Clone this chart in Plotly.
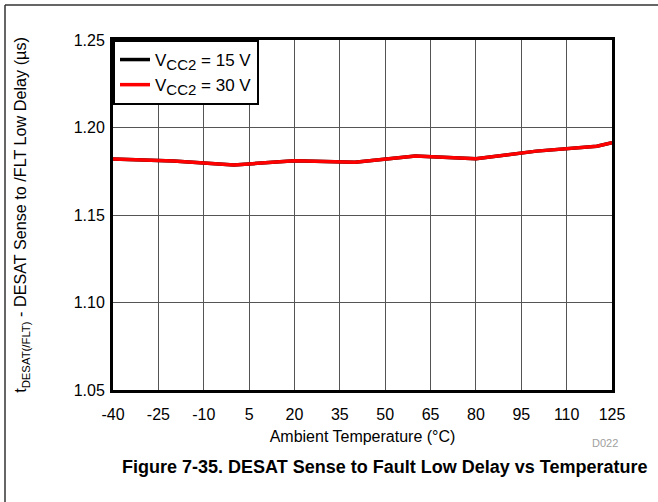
import plotly.graph_objects as go

temps = [-40, -20, 0, 20, 40, 60, 80, 100, 120, 125]
delay_15v = [1.1820, 1.1809, 1.1786, 1.1810, 1.1801, 1.1837, 1.1822, 1.1865, 1.1893, 1.1913]
delay_30v = [1.1820, 1.1809, 1.1786, 1.1810, 1.1801, 1.1837, 1.1822, 1.1865, 1.1893, 1.1913]
x_ticks = [-40, -25, -10, 5, 20, 35, 50, 65, 80, 95, 110, 125]
y_ticks = [1.05, 1.10, 1.15, 1.20, 1.25]

FONT = "Liberation Sans, Arial, sans-serif"
SUB = "<sub><span style='font-size:15px'>CC2</span></sub>"

fig = go.Figure()
fig.add_trace(go.Scatter(x=temps, y=delay_15v, mode="lines", name="V" + SUB + " = 15 V",
                         line=dict(color="black", width=3.5)))
fig.add_trace(go.Scatter(x=temps, y=delay_30v, mode="lines", name="V" + SUB + " = 30 V",
                         line=dict(color="#ff0000", width=3.5)))

L, R, T, B = 113, 46, 40, 112
W, H = 658, 502
pw, ph = W - L - R, H - T - B

def px(x):
    return (x - L) / pw

def py(y):
    return (H - B - y) / ph

fig.update_layout(
    width=W, height=H,
    margin=dict(l=L, r=R, t=T, b=B),
    paper_bgcolor="white", plot_bgcolor="white",
    font=dict(family=FONT, size=16, color="black"),
    showlegend=True,
    legend=dict(x=0, y=1, xanchor="left", yanchor="top",
                bordercolor="black", borderwidth=2, bgcolor="white",
                font=dict(size=17), tracegroupgap=0, itemwidth=30),
    xaxis=dict(range=[-40, 125], tickvals=x_ticks, ticktext=[str(v) for v in x_ticks],
               showgrid=True, gridcolor="#555555", gridwidth=1,
               showline=True, linecolor="black", linewidth=3, mirror=True,
               ticks="", zeroline=False, ticklabelstandoff=8,
               title=dict(text="Ambient Temperature (°C)", standoff=9, font=dict(size=16))),
    yaxis=dict(range=[1.05, 1.25], tickvals=y_ticks, ticktext=["%.2f" % v for v in y_ticks],
               showgrid=True, gridcolor="#555555", gridwidth=1,
               showline=True, linecolor="black", linewidth=3, mirror=True,
               ticks="", zeroline=False, ticklabelstandoff=2,
               title=dict(text="t<sub>DESAT(/FLT)</sub> - DESAT Sense to /FLT Low Delay (µs)",
                          standoff=43, font=dict(size=16.2))),
    shapes=[
        dict(type="line", xref="paper", yref="paper", x0=px(5), x1=px(660), y0=py(5), y1=py(5),
             line=dict(color="#333333", width=1.5)),
        dict(type="line", xref="paper", yref="paper", x0=px(5), x1=px(5), y0=py(5), y1=py(505),
             line=dict(color="#333333", width=1.5)),
    ],
    annotations=[
        dict(text="D022", xref="paper", yref="paper", x=px(620), y=py(443), xanchor="right",
             yanchor="middle", showarrow=False, font=dict(size=11, color="#a0a0a0")),
        dict(text="<b>Figure 7-35. DESAT Sense to Fault Low Delay vs Temperature</b>",
             xref="paper", yref="paper", x=px(384), y=py(467), xanchor="center", yanchor="middle",
             showarrow=False, font=dict(size=18, color="black")),
    ],
)

fig.write_html("out.html", config={"displayModeBar": False},
               post_script="document.body.style.margin='0px';")
